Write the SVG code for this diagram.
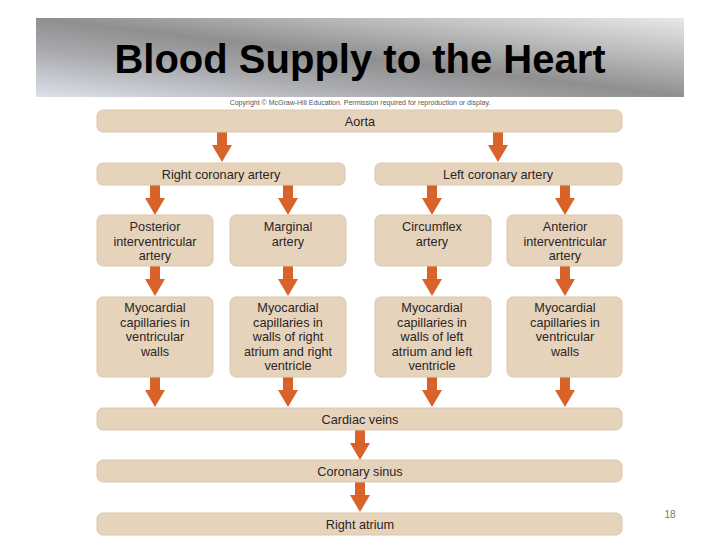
<svg xmlns="http://www.w3.org/2000/svg" width="720" height="540" viewBox="0 0 720 540">
<style>
.box{fill:#e6d3bc;stroke:#dcc6ab;stroke-width:1}
.t{font-family:"Liberation Sans",Arial,sans-serif;font-size:12.7px;fill:#2a2526;text-anchor:middle}
.arr{fill:#d9622b}
</style>
<defs>
<linearGradient id="bg" x1="0" y1="1" x2="1" y2="0">
<stop offset="0" stop-color="#dde1ea"/>
<stop offset="0.3" stop-color="#a9aaae"/>
<stop offset="0.5" stop-color="#8f8f8f"/>
<stop offset="0.7" stop-color="#b4b4b4"/>
<stop offset="1" stop-color="#e8e8e8"/>
</linearGradient>
<path id="ar" class="arr" d="M-5,0 H5 V13 H10 L0,30 L-10,13 H-5 Z"/>
</defs>
<rect x="0" y="0" width="720" height="540" fill="#ffffff"/>
<g id="title">
<rect x="36" y="18" width="648" height="79" fill="url(#bg)"/>
<text x="360" y="73" font-family="Liberation Sans,Arial,sans-serif" font-size="40" font-weight="bold" text-anchor="middle" fill="#000">Blood Supply to the Heart</text>
<text x="360" y="105" font-family="Liberation Sans,Arial,sans-serif" font-size="7" text-anchor="middle" fill="#555">Copyright © McGraw-Hill Education. Permission required for reproduction or display.</text>
</g>
<g id="connectors">
<use href="#ar" x="222" y="132"/>
<use href="#ar" x="498" y="132"/>
<use href="#ar" x="155" y="185"/>
<use href="#ar" x="288" y="185"/>
<use href="#ar" x="432" y="185"/>
<use href="#ar" x="565" y="185"/>
<use href="#ar" x="155" y="266"/>
<use href="#ar" x="288" y="266"/>
<use href="#ar" x="432" y="266"/>
<use href="#ar" x="565" y="266"/>
<use href="#ar" x="155" y="377"/>
<use href="#ar" x="288" y="377"/>
<use href="#ar" x="432" y="377"/>
<use href="#ar" x="565" y="377"/>
<use href="#ar" x="360" y="430"/>
<use href="#ar" x="360" y="482"/>
</g>
<g id="aorta"><rect class="box" x="97" y="110" width="525" height="22" rx="6"/><text class="t" x="360" y="126">Aorta</text></g>
<g id="rca"><rect class="box" x="97" y="163" width="248" height="22" rx="6"/><text class="t" x="221" y="179">Right coronary artery</text></g>
<g id="lca"><rect class="box" x="375" y="163" width="247" height="22" rx="6"/><text class="t" x="498" y="179">Left coronary artery</text></g>
<g id="piv"><rect class="box" x="97" y="215" width="116" height="51" rx="6"/><text class="t" x="155" y="231">Posterior</text><text class="t" x="155" y="245.5">interventricular</text><text class="t" x="155" y="260">artery</text></g>
<g id="marg"><rect class="box" x="230" y="215" width="116" height="51" rx="6"/><text class="t" x="288" y="231">Marginal</text><text class="t" x="288" y="245.5">artery</text></g>
<g id="circ"><rect class="box" x="375" y="215" width="116" height="51" rx="6"/><text class="t" x="432" y="231">Circumflex</text><text class="t" x="432" y="245.5">artery</text></g>
<g id="aiv"><rect class="box" x="507" y="215" width="115" height="51" rx="6"/><text class="t" x="565" y="231">Anterior</text><text class="t" x="565" y="245.5">interventricular</text><text class="t" x="565" y="260">artery</text></g>
<g id="myo1"><rect class="box" x="97" y="297" width="116" height="80" rx="6"/><text class="t" x="155" y="312">Myocardial</text><text class="t" x="155" y="326.5">capillaries in</text><text class="t" x="155" y="341">ventricular</text><text class="t" x="155" y="355.5">walls</text></g>
<g id="myo2"><rect class="box" x="230" y="297" width="116" height="80" rx="6"/><text class="t" x="288" y="312">Myocardial</text><text class="t" x="288" y="326.5">capillaries in</text><text class="t" x="288" y="341">walls of right</text><text class="t" x="288" y="355.5">atrium and right</text><text class="t" x="288" y="370">ventricle</text></g>
<g id="myo3"><rect class="box" x="375" y="297" width="116" height="80" rx="6"/><text class="t" x="432" y="312">Myocardial</text><text class="t" x="432" y="326.5">capillaries in</text><text class="t" x="432" y="341">walls of left</text><text class="t" x="432" y="355.5">atrium and left</text><text class="t" x="432" y="370">ventricle</text></g>
<g id="myo4"><rect class="box" x="507" y="297" width="115" height="80" rx="6"/><text class="t" x="565" y="312">Myocardial</text><text class="t" x="565" y="326.5">capillaries in</text><text class="t" x="565" y="341">ventricular</text><text class="t" x="565" y="355.5">walls</text></g>
<g id="veins"><rect class="box" x="97" y="408" width="525" height="22" rx="6"/><text class="t" x="360" y="424">Cardiac veins</text></g>
<g id="sinus"><rect class="box" x="97" y="460" width="525" height="22" rx="6"/><text class="t" x="360" y="476">Coronary sinus</text></g>
<g id="ratrium"><rect class="box" x="97" y="513" width="525" height="22" rx="6"/><text class="t" x="360" y="529">Right atrium</text></g>
<text x="670" y="518" font-family="Liberation Sans,Arial,sans-serif" font-size="10" text-anchor="middle" fill="#777">18</text>
</svg>
